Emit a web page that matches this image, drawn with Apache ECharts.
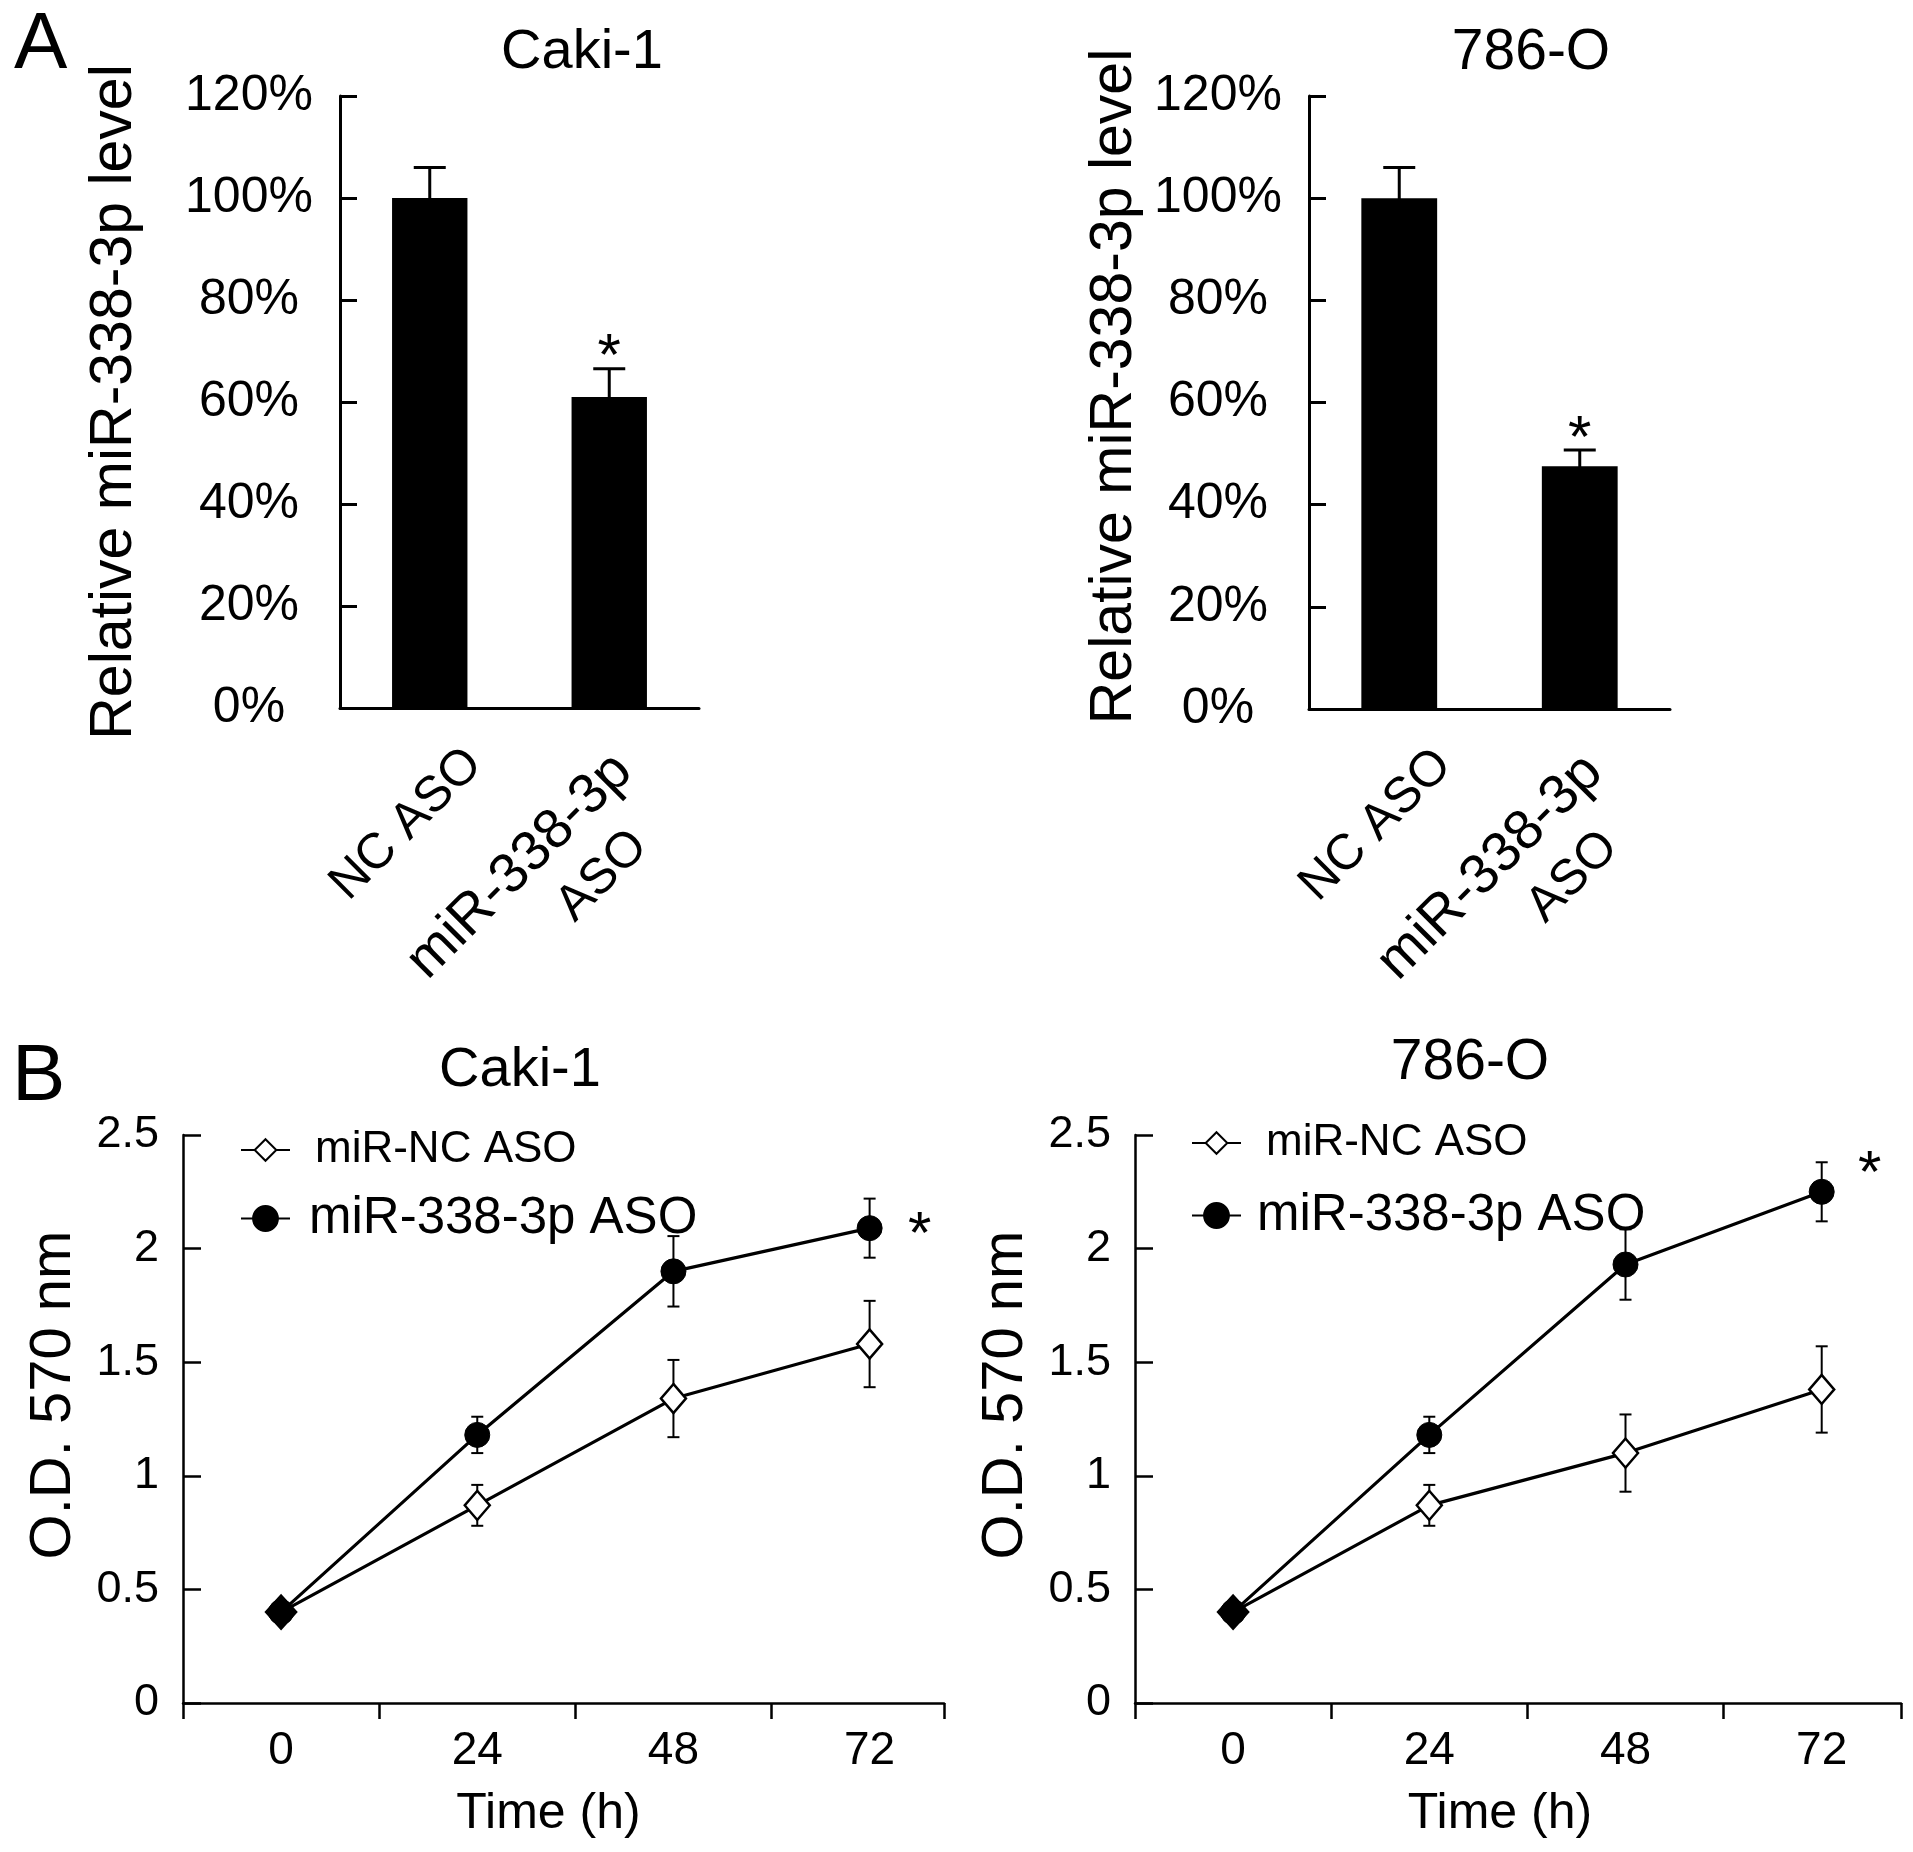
<!DOCTYPE html>
<html>
<head>
<meta charset="utf-8">
<script src="https://cdn.jsdelivr.net/npm/echarts@6/dist/echarts.min.js"></script>
<style>html,body{margin:0;padding:0;background:#fff}#c{width:1913px;height:1852px}</style>
</head>
<body>
<div id="c"></div>
<script>
// ---------- data ----------
// Panel A: relative miR-338-3p level (%)
var barCategories = ['NC ASO', 'miR-338-3p\nASO'];
var cakiLevel = [100, 61];
var cakiLevelErr = [6, 5.5];
var cakiLevelSig = [0, 1];
var o786Level = [100, 47.5];
var o786LevelErr = [6, 3.2];
var o786LevelSig = [0, 1];
var percentAxis = [0, 120, 20]; // min, max, step

// Panel B: O.D. 570 nm over time (h)
var timePoints = [0, 24, 48, 72];
var cakiNC = [0.40, 0.87, 1.34, 1.58];
var cakiNCErr = [0, 0.09, 0.17, 0.19];
var caki338 = [0.40, 1.18, 1.90, 2.09];
var caki338Err = [0, 0.08, 0.155, 0.13];
var o786NC = [0.40, 0.87, 1.10, 1.38];
var o786NCErr = [0, 0.09, 0.17, 0.19];
var o786338 = [0.40, 1.18, 1.93, 2.25];
var o786338Err = [0, 0.08, 0.155, 0.13];
var odAxis = [0, 2.5, 0.5];
var timeAxisTicks = [-12, 24]; // first tick, step (ticks fall between time points)
var timeAxisLabels = [-12, 12];
var cakiTimeMax = 81.1;
var o786TimeMax = 81.7;
var cakiStar = [72, 2.12];
var o786Star = [72, 2.39];

var seriesNames = ['miR-NC ASO', 'miR-338-3p ASO'];

// ---------- helpers ----------
var FONT = '"Liberation Sans", Arial, Helvetica, sans-serif';
var BLACK = '#000';

function barErrRender(capHalf, lw) {
  return function (params, api) {
    var x = api.value(0), y = api.value(1), e = api.value(2), sig = api.value(3);
    var top = api.coord([x, y + e]);
    var bot = api.coord([x, y - e]);
    var st = {stroke: BLACK, lineWidth: lw};
    var ch = [
      {type: 'line', shape: {x1: top[0], y1: top[1], x2: bot[0], y2: bot[1]}, style: st},
      {type: 'line', shape: {x1: top[0] - capHalf, y1: top[1], x2: top[0] + capHalf, y2: top[1]}, style: st}
    ];
    if (sig) {
      ch.push({type: 'text', x: top[0], y: top[1] - 10,
        style: {text: '*', fill: BLACK, fontSize: 60, fontFamily: FONT, align: 'center', verticalAlign: 'middle'}});
    }
    return {type: 'group', children: ch};
  };
}
function lineErrRender(capHalf, lw) {
  return function (params, api) {
    var x = api.value(0), y = api.value(1), e = api.value(2);
    if (!e) return {type: 'group', children: []};
    var top = api.coord([x, y + e]);
    var bot = api.coord([x, y - e]);
    var st = {stroke: BLACK, lineWidth: lw};
    return {type: 'group', children: [
      {type: 'line', shape: {x1: top[0], y1: top[1], x2: bot[0], y2: bot[1]}, style: st},
      {type: 'line', shape: {x1: top[0] - capHalf, y1: top[1], x2: top[0] + capHalf, y2: top[1]}, style: st},
      {type: 'line', shape: {x1: bot[0] - capHalf, y1: bot[1], x2: bot[0] + capHalf, y2: bot[1]}, style: st}
    ]};
  };
}
function starRender(dx, dy) {
  return function (params, api) {
    var p = api.coord([api.value(0), api.value(1)]);
    return {type: 'text', x: p[0] + dx, y: p[1] + dy,
      style: {text: '*', fill: BLACK, fontSize: 60, fontFamily: FONT, align: 'center', verticalAlign: 'middle'}};
  };
}
function barData(vals, errs, sig) { return vals.map(function (v, i) { return [i, v, errs[i], sig[i]]; }); }
function lineData(vals, firstBlack) {
  return vals.map(function (v, i) {
    var item = {value: [timePoints[i], v]};
    if (firstBlack && i === 0) { item.itemStyle = {color: BLACK}; item.symbolSize = [30, 33]; }
    return item;
  });
}
function errData(vals, errs) { return vals.map(function (v, i) { return [timePoints[i], v, errs[i]]; }); }

function catAxis(grid) {
  return {
    type: 'category', gridIndex: grid, data: barCategories,
    axisLine: {lineStyle: {color: BLACK, width: 3}},
    axisTick: {length: 15, lineStyle: {color: BLACK, width: 3}},
    axisLabel: {
      interval: 0, rotate: 45, margin: 4, align: 'right', verticalAlign: 'top',
      fontSize: 50, color: BLACK, fontFamily: FONT,
      formatter: function (v) {
        var parts = v.split('\n');
        if (parts.length === 1) return '{one|' + parts[0] + '}';
        return '{l1|' + parts[0] + '}\n{l2|' + parts[1] + '}';
      },
      rich: {
        one: {align: 'right', padding: [38, 0, 0, 0], fontSize: 50, fontFamily: FONT, color: BLACK},
        l1: {align: 'right', padding: [18, 26, 12, 0], fontSize: 56, fontFamily: FONT, color: BLACK},
        l2: {align: 'right', padding: [0, 68, 0, 0], fontSize: 50, fontFamily: FONT, color: BLACK}
      }
    }
  };
}
function pctAxis(grid, gap, shift) {
  return {
    type: 'value', gridIndex: grid, min: percentAxis[0], max: percentAxis[1], interval: percentAxis[2],
    name: 'Relative miR-338-3p level', nameLocation: 'middle', nameGap: gap,
    nameTextStyle: {fontSize: 59, color: BLACK, fontFamily: FONT, padding: [0, 0, 0, shift]},
    axisLine: {show: true, onZero: false, lineStyle: {color: BLACK, width: 3}},
    axisTick: {show: true, inside: true, length: 17, lineStyle: {color: BLACK, width: 3}},
    splitLine: {show: false},
    axisLabel: {formatter: '{value}%', fontSize: 50, color: BLACK, fontFamily: FONT, margin: 91, align: 'center'}
  };
}
function timeTickAxis(grid, max, namePad) {
  return {
    type: 'value', gridIndex: grid, min: timeAxisTicks[0], max: max, interval: timeAxisTicks[1],
    name: 'Time (h)', nameLocation: 'middle', nameGap: 86,
    nameTextStyle: {fontSize: 50, color: BLACK, fontFamily: FONT, padding: [0, namePad, 0, 0]},
    axisLine: {onZero: false, lineStyle: {color: BLACK, width: 2.5}},
    axisTick: {length: 16, lineStyle: {color: BLACK, width: 2.5}},
    axisLabel: {show: false}, splitLine: {show: false}
  };
}
function timeLabelAxis(grid, max) {
  return {
    type: 'value', gridIndex: grid, position: 'bottom', min: timeAxisLabels[0], max: max, interval: timeAxisLabels[1],
    axisLine: {show: false, onZero: false}, axisTick: {show: false}, splitLine: {show: false},
    axisLabel: {
      fontSize: 46, color: BLACK, fontFamily: FONT, margin: 25, showMinLabel: true, showMaxLabel: true,
      formatter: function (v) { return timePoints.indexOf(v) >= 0 ? String(v) : ''; }
    }
  };
}
function odYAxis(grid) {
  return {
    type: 'value', gridIndex: grid, min: odAxis[0], max: odAxis[1], interval: odAxis[2],
    name: 'O.D. 570 nm', nameLocation: 'middle', nameGap: 100,
    nameTextStyle: {fontSize: 58, color: BLACK, fontFamily: FONT, padding: [0, 0, 0, 48]},
    axisLine: {show: true, onZero: false, lineStyle: {color: BLACK, width: 2.5}},
    axisTick: {show: true, inside: true, length: 18, lineStyle: {color: BLACK, width: 2.5}},
    splitLine: {show: false},
    axisLabel: {fontSize: 45, color: BLACK, fontFamily: FONT, margin: 24}
  };
}
function ncSeries(xi, yi, vals) {
  return {
    type: 'line', name: seriesNames[0], xAxisIndex: xi, yAxisIndex: yi, data: lineData(vals, true),
    symbol: 'diamond', symbolSize: [25, 29], z: 3,
    itemStyle: {color: '#fff', borderColor: BLACK, borderWidth: 2.5},
    lineStyle: {color: BLACK, width: 3.2}
  };
}
function s338Series(xi, yi, vals) {
  return {
    type: 'line', name: seriesNames[1], xAxisIndex: xi, yAxisIndex: yi, data: lineData(vals, false),
    symbol: 'circle', symbolSize: 25, z: 4,
    itemStyle: {color: BLACK, borderColor: BLACK, borderWidth: 1},
    lineStyle: {color: BLACK, width: 3.2}
  };
}
function legendItem(name, left, top, fs, ih, pad) {
  return {
    data: [name], orient: 'vertical', left: left, top: top, padding: 0,
    itemWidth: 49, itemHeight: ih, selectedMode: false,
    textStyle: {fontSize: fs, color: BLACK, fontFamily: FONT, padding: [0, 0, 0, pad]}
  };
}
function titleItem(text, left, top, fs, align) {
  return {text: text, left: left, top: top, padding: 0, textAlign: align,
    textStyle: {fontSize: fs, fontWeight: 'normal', color: BLACK, fontFamily: FONT}};
}

var chart = echarts.init(document.getElementById('c'));
chart.setOption({
  animation: false,
  backgroundColor: '#fff',
  title: [
    titleItem('A', 14, 6, 80, 'left'),
    titleItem('Caki-1', 582, 25, 56, 'center'),
    titleItem('786-O', 1531, 25, 57, 'center'),
    titleItem('B', 12, 1038, 80, 'left'),
    titleItem('Caki-1', 520, 1043, 56, 'center'),
    titleItem('786-O', 1470, 1035, 57, 'center')
  ],
  legend: [
    legendItem(seriesNames[0], 240, 1128, 44, 27, 20),
    legendItem(seriesNames[1], 240, 1193, 51, 31, 14),
    legendItem(seriesNames[0], 1191, 1121, 44, 27, 20),
    legendItem(seriesNames[1], 1191, 1190, 51, 31, 11)
  ],
  grid: [
    {left: 340, top: 96, width: 359, height: 612, outerBoundsMode: 'none'},
    {left: 1309, top: 96, width: 361, height: 613, outerBoundsMode: 'none'},
    {left: 183, top: 1135, width: 761, height: 568, outerBoundsMode: 'none'},
    {left: 1135, top: 1135, width: 766, height: 568, outerBoundsMode: 'none'}
  ],
  xAxis: [
    catAxis(0),
    catAxis(1),
    timeTickAxis(2, cakiTimeMax, 30),
    timeLabelAxis(2, cakiTimeMax),
    timeTickAxis(3, o786TimeMax, 36),
    timeLabelAxis(3, o786TimeMax)
  ],
  yAxis: [
    pctAxis(0, 196, 0),
    pctAxis(1, 165, 32),
    odYAxis(2),
    odYAxis(3)
  ],
  series: [
    {type: 'bar', xAxisIndex: 0, yAxisIndex: 0, data: cakiLevel, barWidth: '42%', itemStyle: {color: BLACK}},
    {type: 'custom', xAxisIndex: 0, yAxisIndex: 0, data: barData(cakiLevel, cakiLevelErr, cakiLevelSig), renderItem: barErrRender(16, 3), z: 5},
    {type: 'bar', xAxisIndex: 1, yAxisIndex: 1, data: o786Level, barWidth: '42%', itemStyle: {color: BLACK}},
    {type: 'custom', xAxisIndex: 1, yAxisIndex: 1, data: barData(o786Level, o786LevelErr, o786LevelSig), renderItem: barErrRender(16, 3), z: 5},

    {type: 'custom', xAxisIndex: 2, yAxisIndex: 2, data: errData(cakiNC, cakiNCErr).concat(errData(caki338, caki338Err)), renderItem: lineErrRender(6, 2), z: 1},
    ncSeries(2, 2, cakiNC),
    s338Series(2, 2, caki338),
    {type: 'custom', xAxisIndex: 2, yAxisIndex: 2, data: [cakiStar], renderItem: starRender(50, 15), z: 5},

    {type: 'custom', xAxisIndex: 4, yAxisIndex: 3, data: errData(o786NC, o786NCErr).concat(errData(o786338, o786338Err)), renderItem: lineErrRender(6, 2), z: 1},
    ncSeries(4, 3, o786NC),
    s338Series(4, 3, o786338),
    {type: 'custom', xAxisIndex: 4, yAxisIndex: 3, data: [o786Star], renderItem: starRender(48, 15), z: 5}
  ]
});
</script>
</body>
</html>
